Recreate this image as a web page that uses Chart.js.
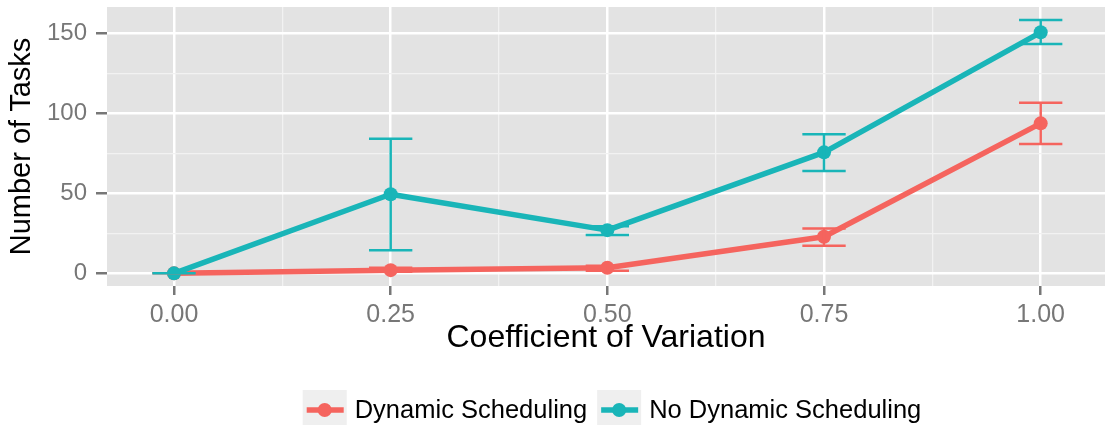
<!DOCTYPE html>
<html>
<head>
<meta charset="utf-8">
<script src="https://cdn.jsdelivr.net/npm/chart.js@4.4.0/dist/chart.umd.min.js"></script>
<style>
  html, body { margin: 0; padding: 0; background: #fff; }
  #wrap { width: 1105px; height: 425px; }
</style>
</head>
<body>
<div id="wrap"><canvas id="myChart" width="1105" height="425"></canvas></div>
<script>
// data
const cv = [0, 0.25, 0.5, 0.75, 1];
const dynMean = [0, 2, 3.5, 22.9, 93.7];
const dynLow = [0, 1, 1.6, 17.3, 80.8];
const dynHigh = [0, 3.5, 4.7, 28.1, 106.6];
const noDynMean = [0, 49.4, 27, 75.6, 150.6];
const noDynLow = [0, 14.4, 24, 63.9, 143.3];
const noDynHigh = [0, 84.1, 29.5, 86.9, 158.3];

const seriesNames = ["Dynamic Scheduling", "No Dynamic Scheduling"];
const seriesColors = ["#F5645E", "#19B5B8"];

const xMajor = [0, 0.25, 0.5, 0.75, 1];
const xMinor = [0.125, 0.375, 0.625, 0.875];
const yMajor = [0, 50, 100, 150];
const yMinor = [25, 75, 125];

const xTitle = "Coefficient of Variation";
const yTitle = "Number of Tasks";

const FONT = "'Liberation Sans', Arial, Helvetica, sans-serif";
const capHalf = 0.025; // half width of error bar caps (x units)

function toPoints(xs, ys) {
  return xs.map((x, i) => ({ x: x, y: ys[i] }));
}

// grey panel behind the grid
const panelBg = {
  id: "panelBg",
  beforeDraw(chart) {
    const { ctx, chartArea: a } = chart;
    ctx.save();
    ctx.fillStyle = "#E3E3E3";
    ctx.fillRect(a.left, a.top, a.right - a.left, a.bottom - a.top);
    ctx.restore();
  },
};

// error bars drawn through the scales
const errorBars = {
  id: "errorBars",
  afterDatasetsDraw(chart) {
    const { ctx } = chart;
    const xs = chart.scales.x;
    const ys = chart.scales.y;
    chart.data.datasets.forEach((ds) => {
      ctx.save();
      ctx.strokeStyle = ds.borderColor;
      ctx.lineWidth = 2.5;
      ds.errLow.forEach((lo, i) => {
        const hi = ds.errHigh[i];
        const x = xs.getPixelForValue(cv[i]);
        const x0 = xs.getPixelForValue(cv[i] - capHalf);
        const x1 = xs.getPixelForValue(cv[i] + capHalf);
        const yl = ys.getPixelForValue(lo);
        const yh = ys.getPixelForValue(hi);
        ctx.beginPath();
        ctx.moveTo(x, yl);
        ctx.lineTo(x, yh);
        ctx.moveTo(x0, yl);
        ctx.lineTo(x1, yl);
        ctx.moveTo(x0, yh);
        ctx.lineTo(x1, yh);
        ctx.stroke();
      });
      ctx.restore();
    });
  },
};

// ggplot-like legend with grey key boxes
const keyLegend = {
  id: "keyLegend",
  afterDraw(chart) {
    const { ctx } = chart;
    const boxW = 44, boxTop = 390, boxH = 40, midY = 410;
    ctx.save();
    ctx.font = "25.5px " + FONT;
    const widths = seriesNames.map((n) => ctx.measureText(n).width);
    const total = widths.reduce((s, w) => s + boxW + 8 + w, 0) + 10 * (seriesNames.length - 1);
    let x = 612 - total / 2;
    seriesNames.forEach((name, i) => {
      ctx.fillStyle = "#EFEFEF";
      ctx.fillRect(x, boxTop, boxW, boxH);
      ctx.strokeStyle = seriesColors[i];
      ctx.lineWidth = 5.5;
      ctx.beginPath();
      ctx.moveTo(x + 4, midY);
      ctx.lineTo(x + boxW - 3, midY);
      ctx.stroke();
      ctx.fillStyle = seriesColors[i];
      ctx.beginPath();
      ctx.arc(x + boxW / 2, midY, 7, 0, Math.PI * 2);
      ctx.fill();
      ctx.fillStyle = "#000";
      ctx.textBaseline = "middle";
      ctx.textAlign = "left";
      ctx.fillText(name, x + boxW + 8, midY + 1);
      x += boxW + 8 + widths[i] + 10;
    });
    ctx.restore();
  },
};

function isMajor(list, v) {
  return list.some((m) => Math.abs(m - v) < 1e-9);
}

function noPadding(scale) {
  scale.paddingTop = 0;
  scale.paddingBottom = 0;
  scale.paddingLeft = 0;
  scale.paddingRight = 0;
}

function createChart() {
  const datasets = [
    {
      label: seriesNames[0],
      data: toPoints(cv, dynMean),
      errLow: dynLow,
      errHigh: dynHigh,
      borderColor: seriesColors[0],
      backgroundColor: seriesColors[0],
      borderWidth: 5.5,
      pointRadius: 7,
      pointBorderWidth: 0,
      borderJoinStyle: "round",
      borderCapStyle: "round",
      order: 2,
    },
    {
      label: seriesNames[1],
      data: toPoints(cv, noDynMean),
      errLow: noDynLow,
      errHigh: noDynHigh,
      borderColor: seriesColors[1],
      backgroundColor: seriesColors[1],
      borderWidth: 5.5,
      pointRadius: 7,
      pointBorderWidth: 0,
      borderJoinStyle: "round",
      borderCapStyle: "round",
      order: 1,
    },
  ];

  const ctx = document.getElementById("myChart").getContext("2d");
  new Chart(ctx, {
    type: "line",
    data: { datasets: datasets },
    plugins: [panelBg, errorBars, keyLegend],
    options: {
      responsive: false,
      animation: false,
      layout: { autoPadding: false, padding: { top: 7, bottom: 59, left: 0, right: 0 } },
      plugins: {
        legend: { display: false },
        tooltip: { enabled: false },
      },
      scales: {
        x: {
          type: "linear",
          min: -0.0773,
          max: 1.0742,
          afterBuildTicks: (scale) => {
            scale.ticks = [...xMajor, ...xMinor].sort((a, b) => a - b).map((v) => ({ value: v }));
          },
          afterFit: (scale) => {
            scale.height = 80;
            noPadding(scale);
          },
          border: { display: false },
          grid: {
            color: (c) => (c.tick && isMajor(xMajor, c.tick.value) ? "#FFFFFF" : "#F2F2F2"),
            lineWidth: (c) => (c.tick && isMajor(xMajor, c.tick.value) ? 2.5 : 1.3),
            tickColor: (c) => (c.tick && isMajor(xMajor, c.tick.value) ? "#777777" : "rgba(0,0,0,0)"),
            tickWidth: 2.5,
            tickLength: 9,
          },
          ticks: {
            autoSkip: false,
            maxRotation: 0,
            padding: 5,
            color: "#777777",
            font: { family: FONT, size: 25 },
            callback: (v) => (isMajor(xMajor, v) ? v.toFixed(2) : ""),
          },
          title: {
            display: true,
            text: xTitle,
            color: "#000",
            font: { family: FONT, size: 32 },
            padding: { top: 0, bottom: 9 },
          },
        },
        y: {
          type: "linear",
          min: -7.9,
          max: 166.4,
          afterBuildTicks: (scale) => {
            scale.ticks = [...yMajor, ...yMinor].sort((a, b) => a - b).map((v) => ({ value: v }));
          },
          afterFit: (scale) => {
            scale.width = 107;
            noPadding(scale);
          },
          border: { display: false },
          grid: {
            color: (c) => (c.tick && isMajor(yMajor, c.tick.value) ? "#FFFFFF" : "#F2F2F2"),
            lineWidth: (c) => (c.tick && isMajor(yMajor, c.tick.value) ? 2.5 : 1.3),
            tickColor: (c) => (c.tick && isMajor(yMajor, c.tick.value) ? "#777777" : "rgba(0,0,0,0)"),
            tickWidth: 2.5,
            tickLength: 11,
          },
          ticks: {
            autoSkip: false,
            padding: 9,
            color: "#777777",
            font: { family: FONT, size: 24 },
            callback: (v) => (isMajor(yMajor, v) ? String(v) : ""),
          },
          title: {
            display: true,
            text: yTitle,
            color: "#000",
            font: { family: FONT, size: 29 },
            padding: { top: 5, bottom: 0 },
          },
        },
      },
    },
  });
}

window.onload = function () {
  createChart();
};
</script>
</body>
</html>
